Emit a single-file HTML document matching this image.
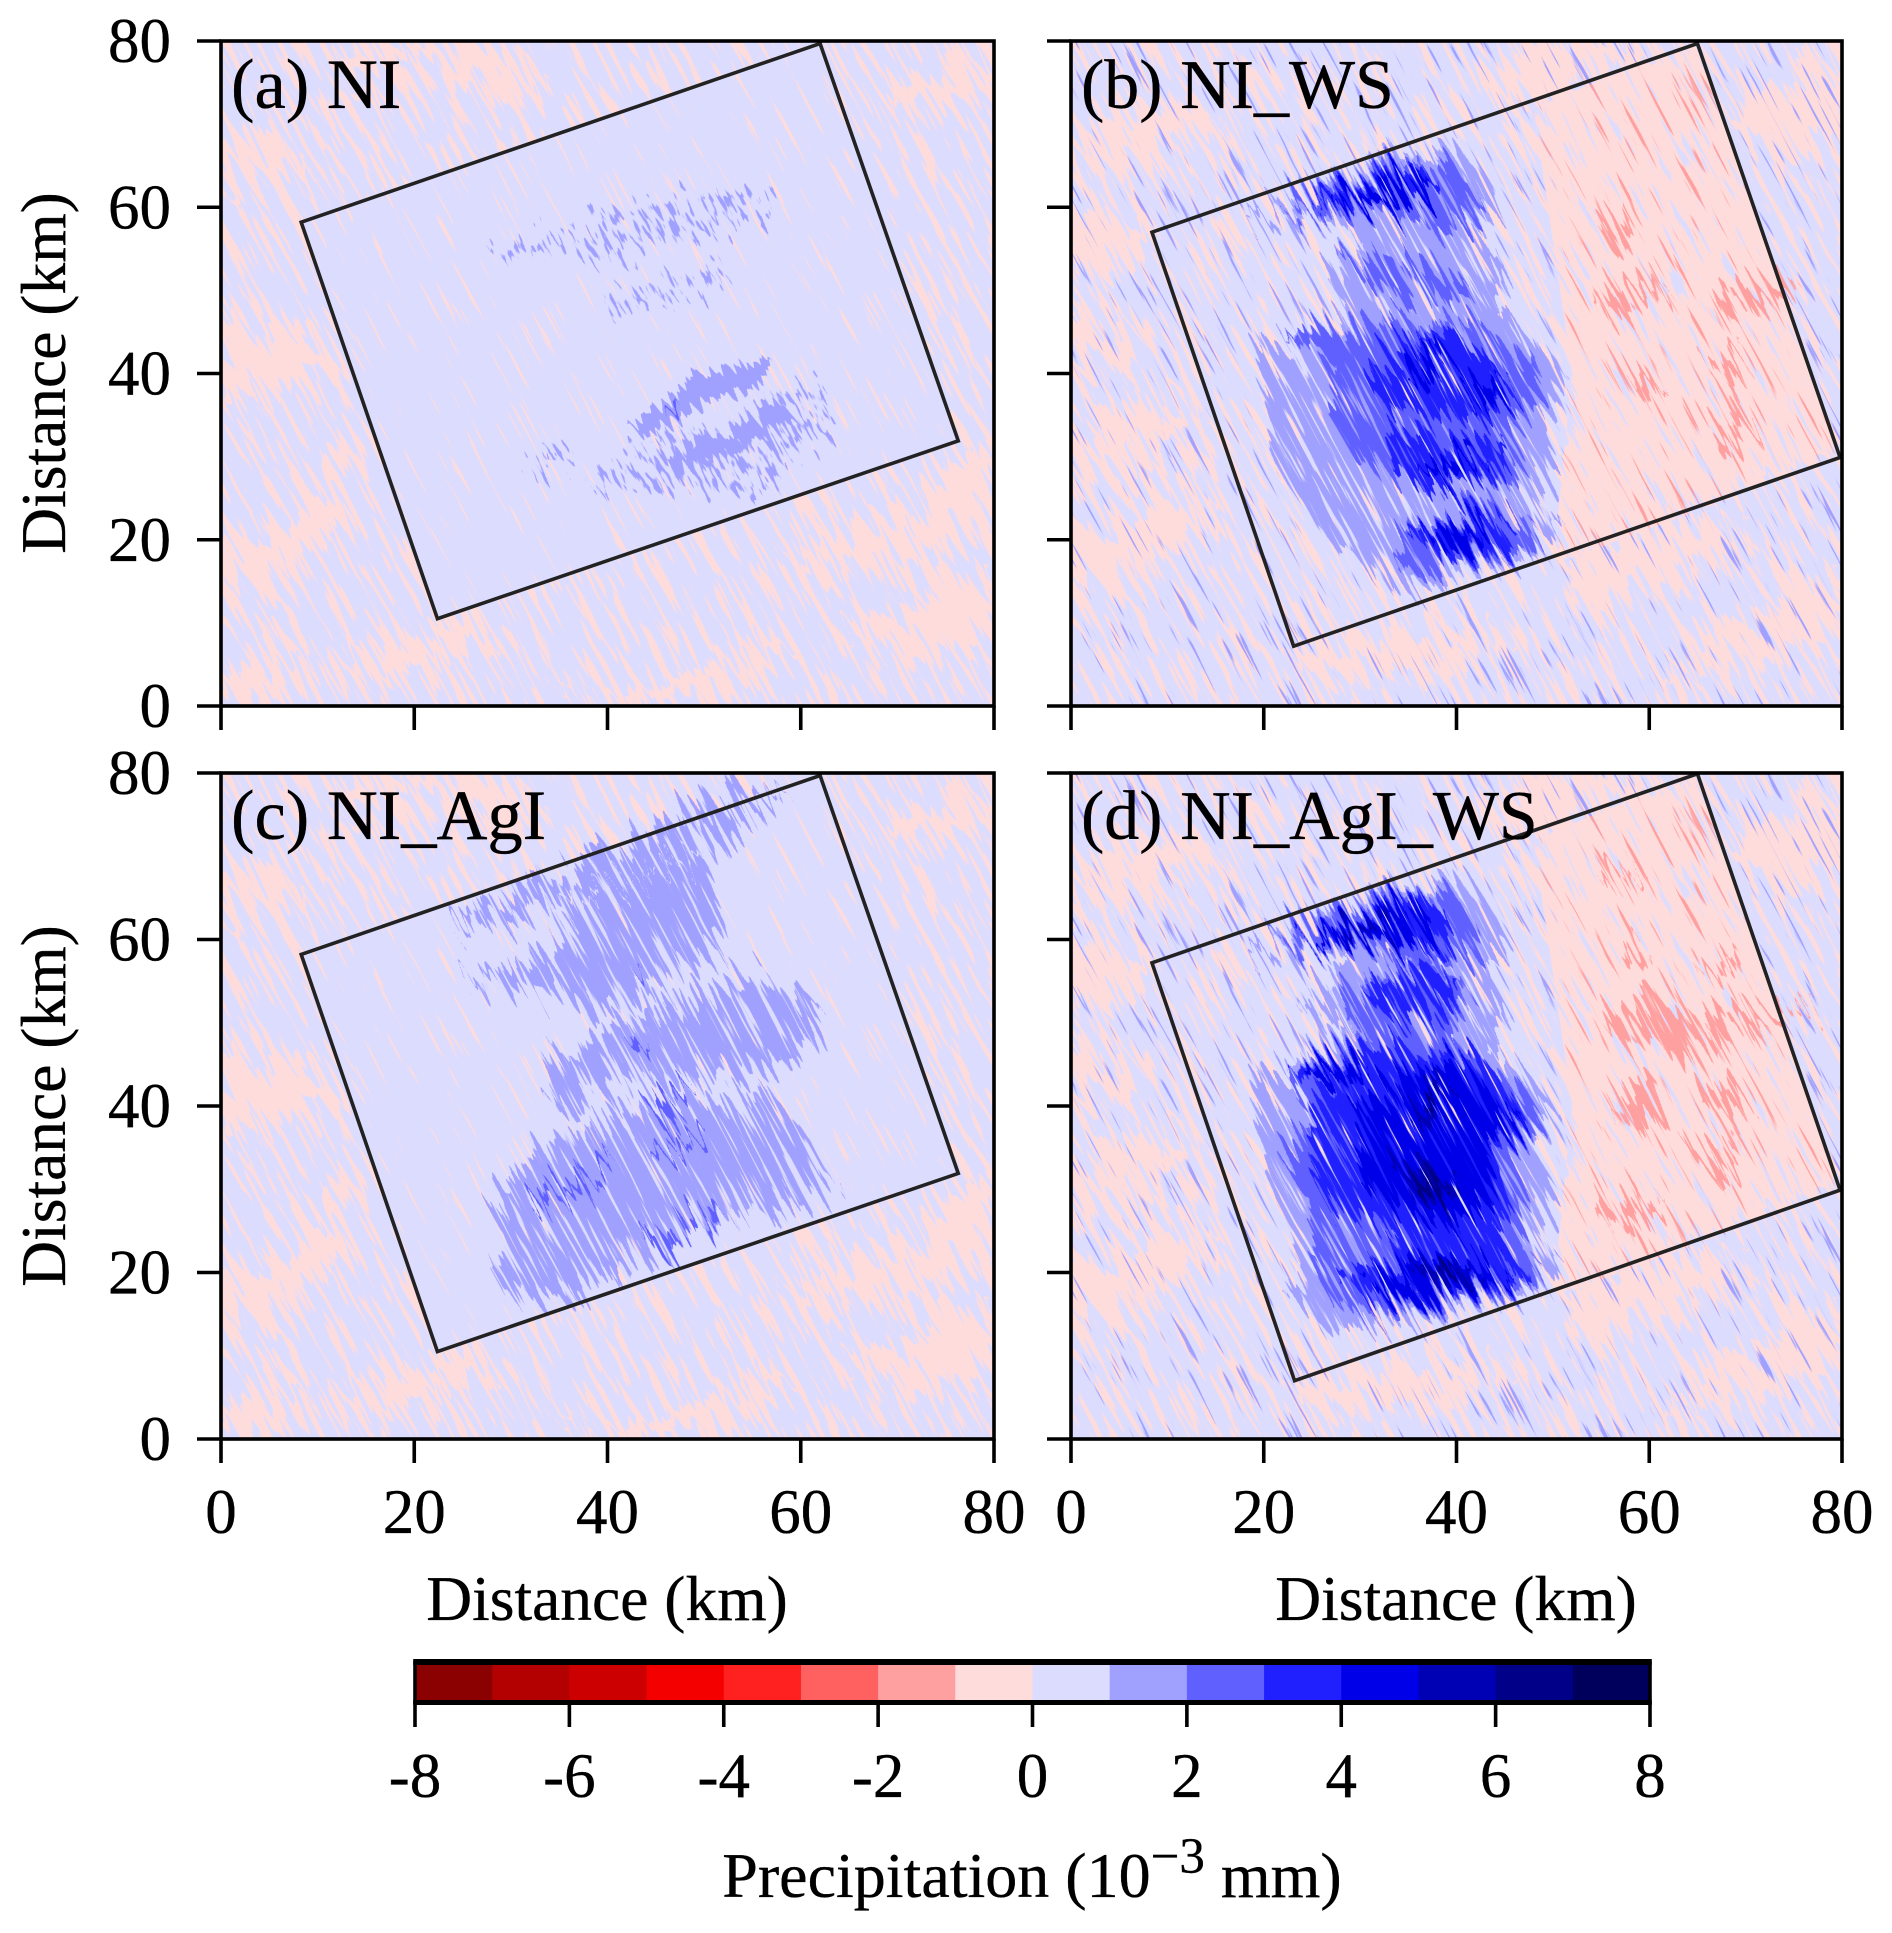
<!DOCTYPE html>
<html lang="en">
<head>
<meta charset="utf-8">
<title>Precipitation difference panels</title>
<style>
html,body{margin:0;padding:0;background:#fff;}
svg{display:block;}
text{font-family:"Liberation Serif","Times New Roman",serif;fill:#000;stroke:#000;stroke-width:0.35px;}
</style>
</head>
<body>
<svg id="figure" xmlns="http://www.w3.org/2000/svg" width="1892" height="1933" viewBox="0 0 1892 1933">
  <defs>
    <filter id="warpBg" filterUnits="userSpaceOnUse" x="-120" y="-180" width="1020" height="1040" color-interpolation-filters="sRGB">
      <feTurbulence type="fractalNoise" baseFrequency="0.013 0.13" numOctaves="2" seed="3" result="n"/>
      <feColorMatrix in="n" type="matrix" values="1 0 0 0 0  0 0 0 0 0.5  0 0 1 0 0  0 0 0 0 1" result="m"/>
      <feDisplacementMap in="SourceGraphic" in2="m" scale="130" xChannelSelector="R" yChannelSelector="G"/>
    </filter>
    <filter id="blobA" filterUnits="userSpaceOnUse" x="-120" y="-180" width="1020" height="1040" color-interpolation-filters="sRGB">
      <feTurbulence type="fractalNoise" baseFrequency="0.015 0.17" numOctaves="2" seed="11" result="n"/>
      <feColorMatrix in="n" type="matrix" values="1 0 0 0 0  0 0 0 0 0.5  0 0 1 0 0  0 0 0 0 1" result="m"/>
      <feDisplacementMap in="SourceGraphic" in2="m" scale="95" xChannelSelector="R" yChannelSelector="G" result="d"/>
      <feTurbulence type="fractalNoise" baseFrequency="0.012 0.28" numOctaves="2" seed="41" result="g"/>
      <feColorMatrix in="g" type="matrix" values="0 0 0 0 0  0 0 0 0 0  0 0 0 0 0  1 0 0 0 0" result="ga"/>
      <feComponentTransfer in="ga" result="mask"><feFuncA type="linear" slope="16" intercept="-5.7"/></feComponentTransfer>
      <feComposite in="d" in2="mask" operator="in"/>
    </filter>
    <filter id="blobB" filterUnits="userSpaceOnUse" x="-120" y="-180" width="1020" height="1040" color-interpolation-filters="sRGB">
      <feTurbulence type="fractalNoise" baseFrequency="0.015 0.17" numOctaves="2" seed="11" result="n"/>
      <feColorMatrix in="n" type="matrix" values="1 0 0 0 0  0 0 0 0 0.5  0 0 1 0 0  0 0 0 0 1" result="m"/>
      <feDisplacementMap in="SourceGraphic" in2="m" scale="95" xChannelSelector="R" yChannelSelector="G" result="d"/>
      <feTurbulence type="fractalNoise" baseFrequency="0.012 0.28" numOctaves="2" seed="53" result="g"/>
      <feColorMatrix in="g" type="matrix" values="0 0 0 0 0  0 0 0 0 0  0 0 0 0 0  1 0 0 0 0" result="ga"/>
      <feComponentTransfer in="ga" result="mask"><feFuncA type="linear" slope="16" intercept="-5.7"/></feComponentTransfer>
      <feComposite in="d" in2="mask" operator="in"/>
    </filter>
    <filter id="coreWarp" filterUnits="userSpaceOnUse" x="-120" y="-180" width="1020" height="1040" color-interpolation-filters="sRGB">
      <feTurbulence type="fractalNoise" baseFrequency="0.015 0.17" numOctaves="2" seed="11" result="n"/>
      <feColorMatrix in="n" type="matrix" values="1 0 0 0 0  0 0 0 0 0.5  0 0 1 0 0  0 0 0 0 1" result="m"/>
      <feDisplacementMap in="SourceGraphic" in2="m" scale="40" xChannelSelector="R" yChannelSelector="G"/>
    </filter>
    <filter id="brokenBlob" filterUnits="userSpaceOnUse" x="-120" y="-180" width="1020" height="1040" color-interpolation-filters="sRGB">
      <feTurbulence type="fractalNoise" baseFrequency="0.015 0.17" numOctaves="2" seed="11" result="n"/>
      <feColorMatrix in="n" type="matrix" values="1 0 0 0 0  0 0 0 0 0.5  0 0 1 0 0  0 0 0 0 1" result="m"/>
      <feDisplacementMap in="SourceGraphic" in2="m" scale="70" xChannelSelector="R" yChannelSelector="G" result="d"/>
      <feTurbulence type="fractalNoise" baseFrequency="0.05 0.26" numOctaves="2" seed="19" result="g"/>
      <feColorMatrix in="g" type="matrix" values="0 0 0 0 0  0 0 0 0 0  0 0 0 0 0  1 0 0 0 0" result="a"/>
      <feComponentTransfer in="a" result="mask"><feFuncA type="linear" slope="14" intercept="-7.3"/></feComponentTransfer>
      <feComposite in="d" in2="mask" operator="in"/>
    </filter>
    <filter id="streakDense" filterUnits="userSpaceOnUse" x="-120" y="-180" width="1020" height="1040" color-interpolation-filters="sRGB">
      <feTurbulence type="fractalNoise" baseFrequency="0.016 0.17" numOctaves="2" seed="7" result="n"/>
      <feColorMatrix in="n" type="matrix" values="0 0 0 0 0  0 0 0 0 0  0 0 0 0 0  1 0 0 0 0" result="a"/>
      <feComponentTransfer in="a" result="mask"><feFuncA type="linear" slope="14" intercept="-7.6"/></feComponentTransfer>
      <feComposite in="SourceGraphic" in2="mask" operator="in"/>
    </filter>
    <filter id="streakSparse" filterUnits="userSpaceOnUse" x="-120" y="-180" width="1020" height="1040" color-interpolation-filters="sRGB">
      <feTurbulence type="fractalNoise" baseFrequency="0.018 0.2" numOctaves="2" seed="23" result="n"/>
      <feColorMatrix in="n" type="matrix" values="0 0 0 0 0  0 0 0 0 0  0 0 0 0 0  1 0 0 0 0" result="a"/>
      <feComponentTransfer in="a" result="mask"><feFuncA type="linear" slope="14" intercept="-8.7"/></feComponentTransfer>
      <feComposite in="SourceGraphic" in2="mask" operator="in"/>
    </filter>
    <filter id="streakThin" filterUnits="userSpaceOnUse" x="-120" y="-180" width="1020" height="1040" color-interpolation-filters="sRGB">
      <feTurbulence type="fractalNoise" baseFrequency="0.014 0.26" numOctaves="2" seed="31" result="n"/>
      <feColorMatrix in="n" type="matrix" values="0 0 0 0 0  0 0 0 0 0  0 0 0 0 0  1 0 0 0 0" result="a"/>
      <feComponentTransfer in="a" result="mask"><feFuncA type="linear" slope="16" intercept="-10.7"/></feComponentTransfer>
      <feComposite in="SourceGraphic" in2="mask" operator="in"/>
    </filter>
  </defs>

  <g id="panels"></g>
  <g id="axes-overlay"></g>

  <text x="231" y="108" font-size="70.5">(a) NI</text>
  <text x="1081" y="108" font-size="70">(b) NI_WS</text>
  <text x="231" y="839" font-size="70.5">(c) NI_AgI</text>
  <text x="1081" y="839" font-size="70">(d) NI_AgI_WS</text>

  <text font-size="63.5" text-anchor="middle" transform="translate(65 373) rotate(-90)">Distance (km)</text>
  <text font-size="63.5" text-anchor="middle" transform="translate(65 1106) rotate(-90)">Distance (km)</text>
  <text font-size="63.5" text-anchor="middle" x="607" y="1620">Distance (km)</text>
  <text font-size="63.5" text-anchor="middle" x="1456" y="1620">Distance (km)</text>

  <g id="colorbar"></g>
  <text font-size="64" text-anchor="middle" x="1032" y="1897">Precipitation (10<tspan font-size="51" dy="-24">−3</tspan><tspan dy="24">  mm)</tspan></text>
</svg>

<script>
// ---------- chart data (kilometres / precipitation values) ----------
const xTickValues = [0, 20, 40, 60, 80];
const yTickValues = [0, 20, 40, 60, 80];
const colorbarTickValues = [-8, -6, -4, -2, 0, 2, 4, 6, 8];
const colorbarBounds = [-8,-7,-6,-5,-4,-3,-2,-1,0,1,2,3,4,5,6,7,8];
const colorbarColors = ['#8b0000','#b30000','#cc0000','#f50000','#ff2020','#ff6060','#ffa0a0','#ffdcdc','#dcdcff','#a0a0ff','#6060ff','#2020ff','#0000e8','#0000b4','#000088','#00005c'];

const domainCorners = [[0,0],[80,0],[80,80],[0,80]];
const boxCornersA = [[8.3,58.2],[62,79.7],[76.3,31.9],[22.4,10.5]];
const boxCornersB = [[8.4,57],[65,79.7],[79.8,29.9],[23.1,7.2]];
const boxCornersC = [[8.3,58.2],[62,79.7],[76.3,31.9],[22.4,10.5]];
const boxCornersD = [[8.4,57.2],[65,79.9],[79.8,29.9],[23.2,7]];

const backgroundPinkNI = [
  [-0.5,[[0,37],[6,38],[13,41],[7,46],[0,46]]],
  [-0.5,[[0,62],[5,63],[9,66],[4,69],[0,68]]],
  [-0.5,[[12,5],[17,6],[26,11],[28,9],[21,4],[14,3]]],
  [-0.5,[[35,0],[46,3],[56,8],[60,6],[50,1],[42,0]]],
  [-0.5,[[58,18],[66,21],[74,25],[80,33],[80,22],[70,17],[62,16]]],
  [-0.5,[[68,73],[74,76],[80,78],[80,74],[74,72]]],
  [-0.5,[[12,75],[20,78],[30,73],[34,76],[25,80],[14,80]]],
  [-0.5,[[64,9],[72,13],[80,16],[80,9],[72,6]]],
  [-0.5,[[0,18],[6,22],[12,28],[14,23],[6,16],[0,14]]],
  [-0.5,[[0,3],[6,8],[10,6],[4,1],[0,0]]]
];
const backgroundPinkWS = [
  [-0.5,[[0,52],[6,54],[9,57],[3,60],[0,59]]],
  [-0.5,[[0,40],[6,42],[7,46],[0,47]]],
  [-0.5,[[0,64],[10,67],[16,71],[6,72],[0,69]]],
  [-0.5,[[44,72],[56,75],[66,79],[52,80],[42,76]]],
  [-0.5,[[66,72],[74,74],[80,78],[80,68],[72,68]]],
  [-0.5,[[26,3],[40,5],[46,9],[30,9],[22,6]]],
  [-0.5,[[52,12],[62,15],[72,20],[62,22],[52,18]]],
  [-0.5,[[0,14],[10,18],[16,24],[8,25],[0,20]]],
  [-0.5,[[0,26],[8,30],[14,36],[6,36],[0,32]]],
  [-0.5,[[60,3],[72,6],[80,10],[80,16],[68,10]]]
];

const panelABands = [
  [1.5,[[35,57],[40,59.5],[46,60.5],[58,62],[56,58.5],[46,55],[39,53]]],
  [1.5,[[28,54],[35,57.5],[36,56],[29,53]]],
  [1.5,[[39.5,49],[44,50.5],[52,53.5],[52.5,51.5],[45,48.5],[40.5,46.5]]],
  [1.5,[[38,27],[42,30.5],[47,33],[52,33],[58,37.5],[63,39],[63,33],[58,30],[56,25],[52,26],[47,26],[42,25.5],[38,26]]],
  [1.5,[[31,28],[36,31.5],[37,30],[32,27]]]
];
const panelASolidBands = [
  [1.5,[[42,34],[48,39],[52,41],[57,41.8],[56,38.5],[50,36.5],[44,32.5]]],
  [1.5,[[46,30],[52,33],[58,36],[60,34],[53,30.5],[47,28]]],
  [2.5,[[45.6,35.8],[47.2,37],[47,35.6]]]
];

const panelBBands = [
  [-0.5,[[47,72],[65,80],[80,30],[50,17],[52,40],[48,62]]],
  [-1.5,[[54,49],[60,51.5],[62,50.5],[56,47]]],
  [-1.5,[[67,48.5],[75,51.8],[76,50],[68,46.5]]],
  [-1.5,[[55,57],[58,59],[59,56],[56,55]]],
  [-1.5,[[65.8,33.7],[70,35],[71.5,33],[67,31.5]]],
  [-1.5,[[66,40.5],[70,43],[69,38.5]]],
  [-1.5,[[58,39],[61,40],[60,36]]],
  [1.5,[[18,58.5],[25,62.5],[35.7,67.6],[41.6,66.5],[44.9,60.1],[41.6,56.7],[45.2,52.7],[44,47.5],[49.3,42.9],[51.6,40],[49.3,34.2],[50.5,29.6],[48.7,23.9],[51.7,21],[45.7,17.6],[33.4,14.1],[27.4,19.3],[25,22.2],[21.5,28.5],[19.2,42.9],[21.5,43.5],[29.2,46.9],[26.3,52.1],[30.4,55.5],[28,57.8],[21,58]]],
  [2.5,[[22,59.2],[25.7,62.4],[35.1,65.9],[39.3,65.3],[42.2,61.9],[41.6,58.4],[38,57.3],[33.9,59.6],[28,59]]],
  [2.5,[[28,53],[32,54],[40,52],[42,49],[33,49.5]]],
  [2.5,[[23.9,44.6],[30,45.5],[42.2,46.3],[44.6,43.5],[48.1,41.7],[49.3,39.4],[46.9,37.1],[45.7,33.1],[46.9,28.5],[43.4,26.2],[33.9,27.3],[29.2,30.2],[26.3,36],[27.5,41.1],[22.7,42.9]]],
  [2.5,[[33.9,19.9],[39.8,22.7],[44,23.9],[48.1,22.2],[48.7,19.9],[41,17.6],[33.9,16.4]]],
  [3.5,[[24.5,60.8],[31,63.6],[36.3,64.7],[38.7,61.9],[34.5,61.9],[29.2,59.8]]],
  [3.5,[[30.4,40],[33.9,43.5],[39.3,45.2],[41.6,42.3],[45.7,39.4],[43.4,36],[38.1,34.2],[31.6,37.1]]],
  [3.5,[[32.8,32],[33.9,27.3],[38.7,25.6],[44,27.3],[45.2,32],[40.4,31.4],[36,33]]],
  [3.5,[[35.1,19.9],[41.6,22.7],[45.7,22.2],[45.2,19.9],[38.7,17.6]]],
  [4.5,[[26.5,61],[36,64],[38,62],[30,60]]],
  [4.5,[[34,41],[38.7,43.5],[40.4,40.6],[36.3,39.4]]],
  [4.5,[[41.6,38.8],[45,39.4],[43.4,37],[41,36.5]]],
  [4.5,[[35.7,27.9],[39.8,30.2],[42.8,30.8],[40.4,27.3]]],
  [4.5,[[36.9,19.9],[42.2,22.2],[44,21],[39.3,18.7]]]
];

const panelCBands = [
  [1.5,[[23.5,62],[32,67],[43.3,72.8],[53.9,78],[58.5,78.5],[52.6,72.5],[49.9,71],[43.3,67.5],[35.3,64.5],[26.7,61.5]]],
  [1.5,[[24.7,55.2],[30,56.4],[34.7,58.9],[35.3,63.8],[43.3,67.4],[49.9,70.5],[52.6,60],[49.3,57],[45.3,53.3],[37.3,50.9],[35.3,54],[28.7,54]]],
  [1.5,[[34,44.8],[40.6,49.7],[51.9,54],[56.6,55.5],[59.2,52.7],[61.9,52.7],[61.2,47.8],[56.6,44.8],[46.6,42.9],[36.7,39.9],[33.4,41.1]]],
  [1.5,[[27.4,28.2],[33.4,35.6],[43.3,39.9],[56.6,42.3],[59.2,38.6],[63.9,31.3],[56.6,28.2],[46.6,23.9],[36.7,17.8],[30,15.9],[28,20.2],[29.4,23.3],[28.7,25.8]]],
  [2.5,[[44,23.3],[51,28.2],[52,27],[46,22.5]]],
  [2.5,[[44,35],[50,37.5],[50,36],[45,34]]],
  [2.5,[[44,40],[49,42],[48.5,40.5],[45,38.5]]],
  [2.5,[[42,47.5],[44,48],[43.5,46]]],
  [2.5,[[43,55.5],[44,56],[43.5,54.5]]],
  [2.5,[[32,28],[40,33.5],[41,33],[33,27]]]
];

const panelDBands = [
  [-0.5,[[47,72],[65,80],[80,30],[50,17],[52,40],[48,62]]],
  [-1.5,[[54.6,49.7],[60,53.3],[63.5,50.9],[72.9,51.5],[77.6,52.7],[74.1,50.3],[67,47.8],[64.6,45.4],[60.5,47.8],[57,48.4]]],
  [-1.5,[[64.7,56.4],[69.4,58.2],[70,57],[67,55.2]]],
  [-1.5,[[55.2,68],[59.9,68],[55.2,66.2]]],
  [-1.5,[[65.2,41],[68.8,42.9],[70.6,40.5],[67.6,38.6]]],
  [-1.5,[[56.4,38],[59.9,44.8],[61.7,39.9],[59.3,36.8]]],
  [-1.5,[[64,34.3],[68.2,35.6],[70,34.3],[66.4,31.9]]],
  [-1.5,[[54,27.6],[59.3,30],[61.7,28.8],[55.8,25.7]]],
  [-1.5,[[57,58.2],[59.9,58.9],[58.1,55.8]]],
  [1.5,[[18,57.9],[22.1,61.3],[31,65.6],[37.5,67.7],[42.2,66.2],[45.8,59.5],[43.4,55.8],[45.2,52.1],[43.4,46],[48.1,42.9],[50.8,39.2],[46.9,36.8],[50.5,30],[48.7,23.9],[51.7,20.2],[45.7,17.2],[30.4,13.5],[26.3,13.5],[22.1,17.2],[24.5,19.6],[21,30],[18.6,42.9],[23.3,44.8],[29.2,49.7],[23.9,50.9],[25.7,54],[29.2,57.6],[25,58.2]]],
  [2.5,[[21,59.8],[29.2,64.4],[37.5,66.5],[40.9,64.4],[42.8,58.2],[37,57.5],[41.6,54],[39.3,48.4],[44,43.5],[47.1,42.3],[48.7,39.2],[45.2,36.2],[46.9,30],[46.9,22.7],[49.3,20.2],[44.6,17.8],[30.4,14.7],[25.7,19],[24.5,29.4],[21.5,33.7],[25.7,38.6],[22.7,42.3],[25.7,45.4],[31,48.4],[28,51.5],[29.2,54],[36,57.5],[30,59],[24,58.5]]],
  [3.5,[[23.9,59.5],[30.4,63.2],[36.3,65.6],[39.3,62.5],[39.8,58.2],[33.9,60],[28,59.5]]],
  [3.5,[[30.4,53.3],[36.3,57],[40.4,54.6],[38.1,50.3],[32.8,50.3]]],
  [3.5,[[23.3,42.9],[29.2,46.6],[42.2,46.3],[45.7,41.1],[46.9,39.2],[43.4,35.6],[45.2,29.4],[44.6,23.9],[47.5,20.2],[41,17.8],[31.6,15.9],[27.4,19.6],[33.9,21.5],[33.9,24.5],[25.7,29.4],[25.1,38.6],[28,42.9],[23.9,42]]],
  [4.5,[[24,59.5],[30,62.5],[36,64.5],[38,61],[32,60]]],
  [4.5,[[29.2,39.9],[35.1,44.1],[41,45.4],[43.4,41],[46.4,39.9],[42.8,36.2],[43.9,29.4],[41,24.5],[33.9,27.6],[30.4,30],[29.2,35.6]]],
  [4.5,[[30.4,18.4],[37.5,21.5],[45.7,20.8],[41,18.4],[33.9,16.6]]],
  [4.5,[[24.7,43],[29,45.5],[31,44.5],[26,41.5]]],
  [5.5,[[35.1,40.5],[39.3,43.5],[39.3,39.9],[35.1,38]]],
  [5.5,[[33.4,32.5],[37.5,33],[41,30],[36.9,27.6]]],
  [5.5,[[35.1,19.6],[39.3,20.8],[42.8,20.2],[38,18.4]]],
  [5.5,[[28.6,61.3],[34,63.1],[33,61.3],[27.5,60]]],
  [6.5,[[35.5,31],[39,31.5],[38,29.5],[36,29]]],
  [6.5,[[37.5,20],[40,20.5],[39.5,19.2]]],
  [6.5,[[36,41],[38,42],[37.5,40]]]
];

// thin scattered red streak regions in the wing-seeded panels
const wsRedStreakRegion = [[48,72],[65,80],[80,30],[50,17],[52,40]];

// ---------- layout (kept apart from the data) ----------
const SVGNS = 'http://www.w3.org/2000/svg';
const panelLayout = [
  {id:'a', left:221, top:41,  right:994,  bottom:706,  box:boxCornersA, pink:backgroundPinkNI, bands:panelABands, solid:panelASolidBands, seeded:false, showXLabels:false, showYLabels:true},
  {id:'b', left:1071,top:41,  right:1842, bottom:706,  box:boxCornersB, pink:backgroundPinkWS, bands:panelBBands, solid:[], seeded:true, showXLabels:false, showYLabels:false},
  {id:'c', left:221, top:773, right:994,  bottom:1439, box:boxCornersC, pink:backgroundPinkNI, bands:panelCBands, solid:[], seeded:false, showXLabels:true, showYLabels:true},
  {id:'d', left:1071,top:773, right:1842, bottom:1439, box:boxCornersD, pink:backgroundPinkWS, bands:panelDBands, solid:[], seeded:true, showXLabels:true, showYLabels:false}
];
const STREAK_ANGLE = 62;
const TICK_LENGTH = 24;
const SPINE_WIDTH = 3.6;

function colorFor(value) {
  for (let i = 0; i < colorbarColors.length; i++) {
    if (value >= colorbarBounds[i] && value < colorbarBounds[i + 1]) return colorbarColors[i];
  }
  return colorbarColors[colorbarColors.length - 1];
}
function make(tag, parent) {
  const el = document.createElementNS(SVGNS, tag);
  parent.appendChild(el);
  return el;
}

const panelsRoot = document.getElementById('panels');
const overlayRoot = document.getElementById('axes-overlay');
const defsRoot = document.querySelector('defs');

panelLayout.forEach(function (p) {
  const w = p.right - p.left;
  const h = p.bottom - p.top;
  const xScale = function (km) { return km / 80 * w; };
  const yScale = function (km) { return h - km / 80 * h; };
  const rad = STREAK_ANGLE * Math.PI / 180;
  const cx = w / 2, cy = h / 2;
  const toRotated = function (pt) {
    const dx = xScale(pt[0]) - cx, dy = yScale(pt[1]) - cy;
    return (cx + dx * Math.cos(rad) + dy * Math.sin(rad)) + ',' + (cy - dx * Math.sin(rad) + dy * Math.cos(rad));
  };
  const plain = function (pts) {
    return pts.map(function (pt) { return xScale(pt[0]) + ',' + yScale(pt[1]); }).join(' ');
  };
  const rotated = function (pts) { return pts.map(toRotated).join(' '); };

  // clip paths
  const axesClip = make('clipPath', defsRoot);
  axesClip.setAttribute('id', 'axes-clip-' + p.id);
  const axesClipRect = make('rect', axesClip);
  axesClipRect.setAttribute('width', w);
  axesClipRect.setAttribute('height', h);

  const insideClip = make('clipPath', defsRoot);
  insideClip.setAttribute('id', 'inside-clip-' + p.id);
  const insidePoly = make('polygon', insideClip);
  insidePoly.setAttribute('points', plain(p.box));

  const outsideClip = make('clipPath', defsRoot);
  outsideClip.setAttribute('id', 'outside-clip-' + p.id);
  const outsidePath = make('path', outsideClip);
  outsidePath.setAttribute('clip-rule', 'evenodd');
  outsidePath.setAttribute('d', 'M0,0H' + w + 'V' + h + 'H0Z M' + plain(p.box).split(' ').join(' L') + 'Z');

  const redClip = make('clipPath', defsRoot);
  redClip.setAttribute('id', 'red-clip-' + p.id);
  const redPoly = make('polygon', redClip);
  redPoly.setAttribute('points', plain(wsRedStreakRegion));

  // field
  const panel = make('g', panelsRoot);
  
  
  panel.setAttribute('transform', 'translate(' + p.left + ' ' + p.top + ')');
  panel.setAttribute('clip-path', 'url(#axes-clip-' + p.id + ')');

  const base = make('rect', panel);
  
  
  base.setAttribute('width', w);
  base.setAttribute('height', h);
  base.setAttribute('fill', colorFor(0.5));

  const rotation = 'rotate(' + STREAK_ANGLE + ' ' + cx + ' ' + cy + ')';

  function streakFill(parent, filterId, value, name) {
    const holder = make('g', parent);
    holder.setAttribute('transform', rotation);
    const r = make('polygon', holder);
    
    
    r.setAttribute('points', rotated(domainCorners));
    r.setAttribute('fill', colorFor(value));
    r.setAttribute('filter', 'url(#' + filterId + ')');
  }
  function bandLayer(parent, bands, filterId, name) {
    const holder = make('g', parent);
    holder.setAttribute('transform', rotation);
    const inner = make('g', holder);
    
    
    inner.setAttribute('filter', 'url(#' + filterId + ')');
    bands.forEach(function (band) {
      const poly = make('polygon', inner);
      
      
      poly.setAttribute('points', rotated(band[1]));
      poly.setAttribute('fill', colorFor(band[0]));
    });
  }
  // one filtered layer per contour level, so gaps in a level reveal the level below it
  function levelLayers(parent, bands, name) {
    const levels = [];
    bands.forEach(function (band) {
      if (levels.indexOf(band[0]) < 0) levels.push(band[0]);
    });
    levels.forEach(function (level, i) {
      const subset = bands.filter(function (band) { return band[0] === level; });
      bandLayer(parent, subset, i % 2 === 0 ? 'blobA' : 'blobB', name + '-level-' + i);
    });
  }

  if (p.seeded) {
    bandLayer(panel, p.pink, 'warpBg', 'panel-' + p.id + '-background-bands');
    streakFill(panel, 'streakDense', -0.5, 'panel-' + p.id + '-pink-streaks');
    streakFill(panel, 'streakThin', 1.5, 'panel-' + p.id + '-blue-streaks');
    const redGroup = make('g', panel);
    redGroup.setAttribute('clip-path', 'url(#red-clip-' + p.id + ')');
    bandLayer(redGroup, [p.bands[0]], 'warpBg', 'panel-' + p.id + '-pink-region');
    streakFill(redGroup, 'streakSparse', 0.5, 'panel-' + p.id + '-lavender-streaks');
    streakFill(redGroup, 'streakThin', -1.5, 'panel-' + p.id + '-red-streaks');
    levelLayers(panel, p.bands.slice(1), 'panel-' + p.id + '-contour-bands');
  } else {
    const outside = make('g', panel);
    outside.setAttribute('clip-path', 'url(#outside-clip-' + p.id + ')');
    bandLayer(outside, p.pink, 'warpBg', 'panel-' + p.id + '-background-bands');
    streakFill(outside, 'streakDense', -0.5, 'panel-' + p.id + '-pink-streaks');
    const inside = make('g', panel);
    inside.setAttribute('clip-path', 'url(#inside-clip-' + p.id + ')');
    streakFill(inside, 'streakThin', -0.5, 'panel-' + p.id + '-inner-pink-streaks');
    if (p.id === 'a') {
      bandLayer(panel, p.bands, 'brokenBlob', 'panel-' + p.id + '-contour-bands');
      bandLayer(panel, p.solid, 'coreWarp', 'panel-' + p.id + '-core-bands');
    } else {
      levelLayers(panel, p.bands, 'panel-' + p.id + '-contour-bands');
    }
  }

  // axes overlay
  const ax = make('g', overlayRoot);
  
  
  ax.setAttribute('transform', 'translate(' + p.left + ' ' + p.top + ')');

  const box = make('polygon', ax);
  
  
  box.setAttribute('points', plain(p.box));
  box.setAttribute('fill', 'none');
  box.setAttribute('stroke', '#222');
  box.setAttribute('stroke-width', 3.6);
  box.setAttribute('stroke-linejoin', 'miter');

  const frame = make('rect', ax);
  
  
  frame.setAttribute('width', w);
  frame.setAttribute('height', h);
  frame.setAttribute('fill', 'none');
  frame.setAttribute('stroke', '#000');
  frame.setAttribute('stroke-width', SPINE_WIDTH);

  xTickValues.forEach(function (v) {
    const t = make('line', ax);
    
    
    t.setAttribute('x1', xScale(v));
    t.setAttribute('x2', xScale(v));
    t.setAttribute('y1', h);
    t.setAttribute('y2', h + TICK_LENGTH);
    t.setAttribute('stroke', '#000');
    t.setAttribute('stroke-width', SPINE_WIDTH);
    if (p.showXLabels) {
      const lab = make('text', ax);
      
      
      lab.setAttribute('x', xScale(v));
      lab.setAttribute('y', 1533 - p.top);
      lab.setAttribute('font-size', 63);
      lab.setAttribute('text-anchor', 'middle');
      lab.textContent = String(v);
    }
  });
  yTickValues.forEach(function (v) {
    const t = make('line', ax);
    
    
    t.setAttribute('x1', -TICK_LENGTH);
    t.setAttribute('x2', 0);
    t.setAttribute('y1', yScale(v));
    t.setAttribute('y2', yScale(v));
    t.setAttribute('stroke', '#000');
    t.setAttribute('stroke-width', SPINE_WIDTH);
    if (p.showYLabels) {
      const lab = make('text', ax);
      
      
      lab.setAttribute('x', -50);
      lab.setAttribute('y', yScale(v) + 21);
      lab.setAttribute('font-size', 63);
      lab.setAttribute('text-anchor', 'end');
      lab.textContent = String(v);
    }
  });
});

// ---------- colorbar ----------
const cbRoot = document.getElementById('colorbar');
const cbLeft = 415, cbRight = 1650, cbTop = 1663, cbBottom = 1702;
const cbScale = function (v) {
  return cbLeft + (v - colorbarBounds[0]) / (colorbarBounds[colorbarBounds.length - 1] - colorbarBounds[0]) * (cbRight - cbLeft);
};
colorbarColors.forEach(function (color, i) {
  const seg = make('rect', cbRoot);
  
  
  seg.setAttribute('x', cbScale(colorbarBounds[i]));
  seg.setAttribute('y', cbTop);
  seg.setAttribute('width', cbScale(colorbarBounds[i + 1]) - cbScale(colorbarBounds[i]) + 0.5);
  seg.setAttribute('height', cbBottom - cbTop);
  seg.setAttribute('fill', color);
});
const cbFrame = make('rect', cbRoot);


cbFrame.setAttribute('x', cbLeft);
cbFrame.setAttribute('y', cbTop);
cbFrame.setAttribute('width', cbRight - cbLeft);
cbFrame.setAttribute('height', cbBottom - cbTop);
cbFrame.setAttribute('fill', 'none');
cbFrame.setAttribute('stroke', '#000');
cbFrame.setAttribute('stroke-width', 3.6);
const cbTopEdge = make('rect', cbRoot);


cbTopEdge.setAttribute('x', cbLeft - 1.8);
cbTopEdge.setAttribute('y', 1659);
cbTopEdge.setAttribute('width', cbRight - cbLeft + 3.6);
cbTopEdge.setAttribute('height', 6);
const cbBottomEdge = make('rect', cbRoot);


cbBottomEdge.setAttribute('x', cbLeft - 1.8);
cbBottomEdge.setAttribute('y', 1700);
cbBottomEdge.setAttribute('width', cbRight - cbLeft + 3.6);
cbBottomEdge.setAttribute('height', 5);
colorbarTickValues.forEach(function (v) {
  const t = make('line', cbRoot);
  
  
  t.setAttribute('x1', cbScale(v));
  t.setAttribute('x2', cbScale(v));
  t.setAttribute('y1', cbBottom);
  t.setAttribute('y2', 1727);
  t.setAttribute('stroke', '#000');
  t.setAttribute('stroke-width', SPINE_WIDTH);
  const lab = make('text', cbRoot);
  
  
  lab.setAttribute('x', cbScale(v));
  lab.setAttribute('y', 1797);
  lab.setAttribute('font-size', 63);
  lab.setAttribute('text-anchor', 'middle');
  lab.textContent = String(v);
});
</script>
</body>
</html>
